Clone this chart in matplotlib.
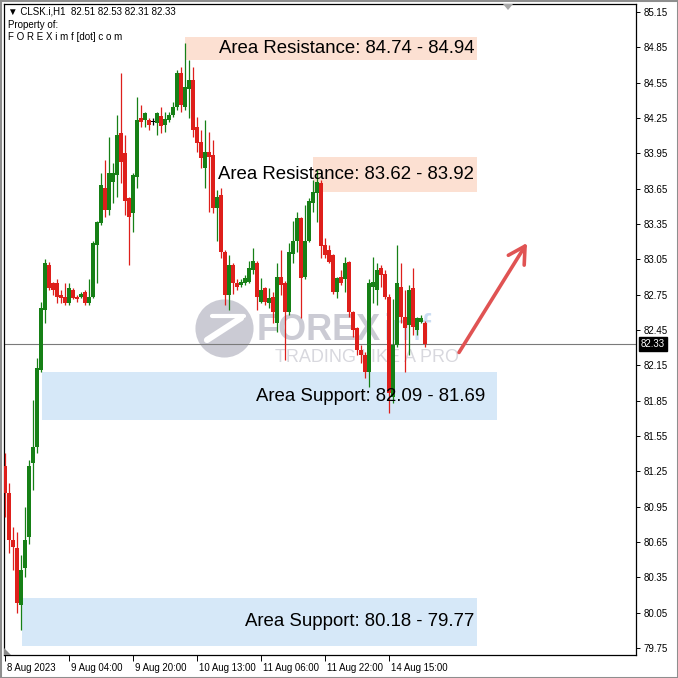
import matplotlib
matplotlib.use("Agg")
import matplotlib.pyplot as plt
from matplotlib.patches import Rectangle, Polygon
import matplotlib.transforms as mtransforms

# ---------------- data ----------------
symbol_header = "\u25bc CLSK.i,H1  82.51 82.53 82.31 82.33"
header_lines = ["Property of:", "F O R E X i m f [dot] c o m"]

opens = [81.30, 81.07, 80.67, 80.60, 80.12, 80.43, 80.69, 81.32, 81.46, 82.11,
         82.62, 83.00, 82.85, 82.85, 82.75, 82.73, 82.68, 82.79, 82.73, 82.73,
         82.77, 82.68, 82.73, 83.17, 83.36, 83.66, 83.47, 83.71, 83.77, 84.12,
         83.95, 83.57, 83.44, 83.75, 84.25, 84.23, 84.23, 84.22, 84.21, 84.27,
         84.19, 84.23, 84.28, 84.34, 84.63, 84.34, 84.50, 84.57, 84.17, 84.05,
         83.83, 83.96, 83.94, 83.49, 83.60, 83.11, 82.75, 83.00, 82.85, 82.83,
         82.85, 82.86, 82.96, 83.02, 82.69, 82.81, 82.68, 82.73, 82.51, 82.90,
         82.85, 82.60, 83.10, 83.21, 83.40, 82.90, 83.21, 83.53, 83.61, 83.70,
         83.17, 83.13, 83.09, 82.77, 82.90, 82.88, 83.03, 82.60, 82.47, 82.28,
         82.24, 82.09, 82.82, 82.79, 82.98, 82.93, 82.73, 81.88, 82.32, 82.82,
         82.56, 82.49, 82.81, 82.45, 82.52, 82.51]
highs = [81.41, 81.15, 80.78, 80.74, 80.54, 80.95, 81.35, 81.86, 82.21, 82.69,
         83.05, 83.03, 82.86, 82.88, 82.79, 82.85, 82.85, 82.81, 82.75, 82.77,
         82.79, 82.88, 83.21, 83.38, 83.78, 83.89, 84.09, 83.87, 84.28, 84.63,
         84.11, 83.58, 83.78, 84.43, 84.36, 84.30, 84.25, 84.25, 84.30, 84.34,
         84.30, 84.30, 84.39, 84.66, 84.68, 84.89, 84.74, 84.68, 84.26, 84.15,
         84.23, 84.13, 84.06, 83.64, 83.66, 83.13, 83.09, 83.02, 82.88, 82.88,
         82.92, 83.04, 83.15, 83.04, 82.89, 82.82, 82.81, 82.77, 83.02, 83.13,
         82.87, 83.19, 83.38, 83.45, 83.41, 83.51, 83.57, 83.72, 83.81, 83.72,
         83.23, 83.17, 83.10, 82.90, 82.96, 83.07, 83.04, 82.61, 82.48, 82.32,
         82.26, 82.88, 83.07, 83.02, 83.00, 82.96, 82.76, 82.71, 83.17, 83.02,
         82.79, 82.83, 82.98, 82.56, 82.58, 82.53]
lows = [80.86, 80.56, 80.41, 80.05, 79.90, 80.35, 80.63, 81.09, 81.41, 82.09,
        82.51, 82.79, 82.75, 82.68, 82.68, 82.66, 82.66, 82.71, 82.69, 82.72,
        82.66, 82.66, 82.72, 82.85, 83.34, 83.41, 83.43, 83.53, 83.58, 83.70,
        83.43, 83.00, 83.28, 83.66, 84.17, 84.17, 84.15, 84.19, 84.11, 84.12,
        84.13, 84.22, 84.26, 84.32, 84.30, 84.32, 84.25, 84.09, 83.96, 83.83,
        83.66, 83.45, 83.44, 83.21, 83.06, 82.66, 82.62, 82.76, 82.79, 82.82,
        82.83, 82.85, 82.93, 82.62, 82.68, 82.66, 82.64, 82.51, 82.43, 82.75,
        82.20, 82.58, 83.02, 83.11, 82.55, 82.88, 83.20, 83.45, 83.37, 83.06,
        83.06, 83.02, 82.76, 82.72, 82.83, 82.77, 82.56, 82.39, 82.24, 82.17,
        82.04, 81.97, 82.68, 82.66, 82.82, 82.71, 81.75, 81.83, 82.31, 82.51,
        82.09, 82.24, 82.41, 82.41, 82.51, 82.31]
closes = [81.07, 80.67, 80.61, 80.13, 80.41, 80.67, 81.30, 81.46, 82.13, 82.64,
          83.02, 82.81, 82.79, 82.73, 82.72, 82.68, 82.81, 82.72, 82.71, 82.76,
          82.68, 82.73, 83.19, 83.37, 83.68, 83.47, 83.78, 83.78, 84.11, 83.88,
          83.55, 83.41, 83.77, 84.23, 84.22, 84.29, 84.19, 84.22, 84.29, 84.18,
          84.24, 84.28, 84.34, 84.63, 84.36, 84.51, 84.57, 84.15, 84.04, 83.91,
          83.96, 83.92, 83.49, 83.58, 83.11, 82.75, 83.00, 82.85, 82.82, 82.86,
          82.89, 82.98, 83.04, 82.73, 82.79, 82.69, 82.72, 82.60, 82.90, 82.83,
          82.60, 83.11, 83.21, 83.40, 82.89, 83.21, 83.55, 83.62, 83.71, 83.16,
          83.09, 83.03, 82.77, 82.89, 82.85, 83.02, 82.60, 82.45, 82.28, 82.24,
          82.09, 82.85, 82.86, 82.96, 82.92, 82.73, 81.92, 82.32, 82.85, 82.56,
          82.47, 82.79, 82.48, 82.55, 82.55, 82.33]

last_price = 82.33
y_ticks = [79.75, 80.05, 80.35, 80.65, 80.95, 81.25, 81.55, 81.85, 82.15,
           82.45, 82.75, 83.05, 83.35, 83.65, 83.95, 84.25, 84.55, 84.85, 85.15]
x_tick_bars = [0, 16, 32, 48, 64, 80, 96]
x_tick_labels = ["8 Aug 2023", "9 Aug 04:00", "9 Aug 20:00", "10 Aug 13:00",
                 "11 Aug 06:00", "11 Aug 22:00", "14 Aug 15:00"]

resistance_zones = [(84.74, 84.94), (83.62, 83.92)]
support_zones = [(82.09, 81.69), (80.18, 79.77)]

# ---------------- style ----------------
GREEN = "#168016"
RED = "#DE1F1B"
RES_FILL = "#FCE0D2"
SUP_FILL = "#D6E8F8"
ARROW_C = "#E05353"
FONT = ["Liberation Sans", "DejaVu Sans"]

W = H = 678
fig = plt.figure(figsize=(W / 100, H / 100), dpi=100)
fig.patch.set_facecolor("white")
ax = fig.add_axes([4 / W, 1 - 655 / H, 632 / W, 651 / H])
ax.set_xlim(-0.25, 157.75)
ax.set_ylim(79.692, 85.218)
for s in ax.spines.values():
    s.set_color("black")
    s.set_linewidth(0.9)

n = len(opens)
xs = list(range(n))

# zones (background rectangles)
zone_layout = [  # (x start bar, x end bar, text right bar)
    (45.0, 118.0, 117.3),
    (77.0, 118.0, 117.3),
    (9.2, 123.0, 120.0),
    (4.2, 118.0, 117.3),
]
zones = ([("Area Resistance", a, b, RES_FILL) for a, b in resistance_zones] +
         [("Area Support", a, b, SUP_FILL) for a, b in support_zones])
for (name, a, b, col), (x0, x1, xt) in zip(zones, zone_layout):
    lo, hi = min(a, b), max(a, b)
    ax.add_patch(Rectangle((x0, lo), x1 - x0, hi - lo, facecolor=col,
                           edgecolor="none", zorder=1))
    ax.text(xt, (a + b) / 2, f"{name}: {a:.2f} - {b:.2f}", ha="right",
            va="center", fontsize=13.4, family=FONT, color="black", zorder=6)

# watermark
wm_gray = "#CBCBD4"
ax.scatter([(224 - 4) / 632], [(655 - 328) / 651], s=1750, color=wm_gray,
           linewidths=0, transform=ax.transAxes, zorder=0.5)
ax.plot([(207 - 4) / 632, (241 - 4) / 632], [(655 - 340) / 651, (655 - 318) / 651],
        color="white", lw=4.5, solid_capstyle="round", transform=ax.transAxes,
        zorder=0.6)
ax.plot([(212 - 4) / 632, (244 - 4) / 632], [(655 - 316) / 651, (655 - 316) / 651],
        color="white", lw=3, solid_capstyle="round", transform=ax.transAxes,
        zorder=0.6)
ax.text((257 - 4) / 632, (655 - 330) / 651, "FOREX", fontsize=26,
        fontweight="bold", family=FONT, color=wm_gray, ha="left",
        va="center", transform=ax.transAxes, zorder=0.5)
ax.text((384 - 4) / 632, (655 - 330) / 651, "imf", fontsize=26,
        family=FONT, color="#CADDF2", ha="left", va="center",
        transform=ax.transAxes, zorder=0.5)
ax.text((367 - 4) / 632, (655 - 357) / 651, "TRADING LIKE A PRO", fontsize=13,
        family=FONT, color="#D8D8DE", ha="center", va="center",
        transform=ax.transAxes, zorder=0.5)

# current price line
ax.axhline(last_price, color="#7A7A7A", lw=0.8, zorder=2)

# candles
body_w = 0.8
for i in xs:
    o, h, l, c = opens[i], highs[i], lows[i], closes[i]
    col = GREEN if c > o else (RED if c < o else "black")
    ax.vlines(i, l, h, color=col, lw=0.9, zorder=3)
    bot = min(o, c)
    ht = max(abs(c - o), 0.009)
    ax.bar(i, ht, bottom=bot, width=body_w, color=col, edgecolor="none",
           zorder=4)

# arrow
arrow_from = (113.5, 82.26)
arrow_to = (130.5, 83.19)
ax.annotate("", xy=arrow_to, xytext=arrow_from,
            arrowprops=dict(arrowstyle="->,head_length=0.75,head_width=0.42",
                            color=ARROW_C, lw=2.6, mutation_scale=16,
                            shrinkA=0, shrinkB=0, capstyle="round"),
            zorder=7)

# axes ticks
ax.yaxis.tick_right()
ax.set_yticks(y_ticks)
ax.set_yticklabels([f"{v:.2f}" for v in y_ticks], family=FONT, fontsize=7)
ax.tick_params(axis="y", direction="out", length=3, width=0.7, pad=2.5,
               colors="black")
ax.set_xticks(x_tick_bars)
ax.set_xticklabels(x_tick_labels, family=FONT, fontsize=6.9, ha="left")
ax.tick_params(axis="x", direction="out", length=4, width=0.7, pad=2,
               colors="black")
offset = mtransforms.ScaledTranslation(2 / 100, 0, fig.dpi_scale_trans)
for lab in ax.get_xticklabels():
    lab.set_transform(lab.get_transform() + offset)

# price label on axis
ax.text(1.0 + 5 / 632, last_price, f"{last_price:.2f}", color="white",
        fontsize=7, family=FONT, ha="left", va="center",
        transform=ax.get_yaxis_transform(),
        bbox=dict(boxstyle="square,pad=0.22", facecolor="black",
                  edgecolor="black"), zorder=10, clip_on=False)

# small markers
ax.add_patch(Polygon([[(503 - 4) / 632, 1.0], [(513 - 4) / 632, 1.0],
                      [(508 - 4) / 632, 1 - 6 / 651]], closed=True,
                     facecolor="#A8A8A8", edgecolor="none",
                     transform=ax.transAxes, clip_on=False, zorder=8))
ax.add_patch(Polygon([[0, 0], [7 / 632, 0], [0, 7 / 651]], closed=True,
                     facecolor="#8A8A8A", edgecolor="none",
                     transform=ax.transAxes, zorder=8))

# header
fig.text(8 / W, 1 - 12 / H, symbol_header, fontsize=7, family=FONT,
         ha="left", va="center", color="black")
for k, line in enumerate(header_lines):
    fig.text(8 / W, 1 - (25 + 12 * k) / H, line, fontsize=7, family=FONT,
             ha="left", va="center", color="black")

# window border
fig.add_artist(Rectangle((0, 0), 1, 1, transform=fig.transFigure, fill=False,
                         edgecolor="#8E8E8E", lw=2.2))

fig.savefig("out.png", dpi=100)
